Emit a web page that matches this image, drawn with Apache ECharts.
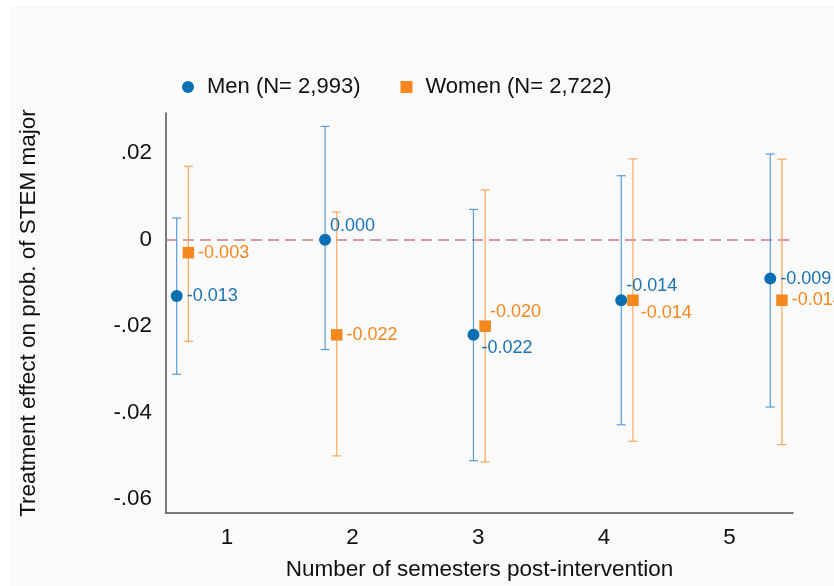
<!DOCTYPE html>
<html>
<head>
<meta charset="utf-8">
<script src="https://cdn.jsdelivr.net/npm/echarts@6/dist/echarts.min.js"></script>
<style>
  html, body { margin: 0; padding: 0; background: #ffffff; }
  #chart { width: 834px; height: 586px; }
</style>
</head>
<body>
<div id="chart"></div>
<script>
// Semesters after the intervention (x-axis tick labels)
const semesters = [1, 2, 3, 4, 5];
const yTicks = [-0.06, -0.04, -0.02, 0, 0.02];

// Men: point estimates, dodge positions and 95% CI bounds
const menName = 'Men (N= 2,993)';
const menX = [0.600, 1.781, 2.962, 4.138, 5.324];
const menEst = [-0.013, 0.000, -0.022, -0.014, -0.009];
const menLo = [-0.0311, -0.0254, -0.0511, -0.0428, -0.0387];
const menHi = [0.0050, 0.0262, 0.0070, 0.0148, 0.0198];

// Women: point estimates, dodge positions and 95% CI bounds
const womenName = 'Women (N= 2,722)';
const womenX = [0.693, 1.874, 3.055, 4.231, 5.417];
const womenEst = [-0.003, -0.022, -0.020, -0.014, -0.014];
const womenLo = [-0.0235, -0.0500, -0.0514, -0.0466, -0.0474];
const womenHi = [0.0170, 0.0064, 0.0115, 0.0187, 0.0186];

// Label placement per point, as clock positions (3 = right, 2 = upper right, 4 = lower right)
const menLabelClock = [3, 2, 4, 2, 3];
const womenLabelClock = [3, 3, 2, 4, 3];
const clockOffset = { 3: [0, 0], 2: [-5, -14], 4: [-2, 13] };

const FONT = '"Liberation Sans", Arial, Helvetica, sans-serif';
const C = {
  menMarker: '#0b6fb1', menBar: '#5b9dd6', menText: '#1a74b4',
  womenMarker: '#f5871f', womenBar: '#f8a85c', womenText: '#f5871f',
  axis: '#505050', zero: '#c97b7b', text: '#111111'
};

function ciSeries(name, xs, lo, hi, color) {
  return {
    type: 'custom',
    name: name + ' CI',
    data: xs.map((x, i) => [x, lo[i], hi[i]]),
    encode: { x: 0, y: [1, 2] },
    silent: true,
    z: 2,
    renderItem: function (params, api) {
      const x = api.value(0);
      const p0 = api.coord([x, api.value(1)]);
      const p1 = api.coord([x, api.value(2)]);
      const hw = 4.5;
      const style = { stroke: color, lineWidth: 1.2, fill: null };
      return {
        type: 'group',
        children: [
          { type: 'line', shape: { x1: p0[0], y1: p0[1], x2: p1[0], y2: p1[1] }, style },
          { type: 'line', shape: { x1: p0[0] - hw, y1: p0[1], x2: p0[0] + hw, y2: p0[1] }, style },
          { type: 'line', shape: { x1: p1[0] - hw, y1: p1[1], x2: p1[0] + hw, y2: p1[1] }, style }
        ]
      };
    }
  };
}

function pointSeries(name, xs, est, clocks, symbol, size, markerColor, textColor) {
  return {
    type: 'scatter',
    name: name,
    symbol: symbol,
    symbolSize: size,
    z: 5,
    itemStyle: { color: markerColor, opacity: 1 },
    data: xs.map((x, i) => ({
      value: [x, est[i]],
      label: { offset: clockOffset[clocks[i]] }
    })),
    label: {
      show: true,
      position: 'right',
      distance: 4,
      color: textColor,
      fontFamily: FONT,
      fontSize: 18,
      formatter: p => p.value[1].toFixed(3)
    },
    emphasis: { disabled: true }
  };
}

const chart = echarts.init(document.getElementById('chart'), null, { renderer: 'canvas' });

const series = [
  ciSeries(menName, menX, menLo, menHi, C.menBar),
  ciSeries(womenName, womenX, womenLo, womenHi, C.womenBar),
  pointSeries(menName, menX, menEst, menLabelClock, 'circle', 12, C.menMarker, C.menText),
  pointSeries(womenName, womenX, womenEst, womenLabelClock, 'rect', 11.5, C.womenMarker, C.womenText)
];

// Reference line at zero
series[2].markLine = {
  silent: true,
  symbol: 'none',
  label: { show: false },
  lineStyle: { color: C.zero, type: [11, 6], width: 1.5 },
  data: [{ yAxis: 0 }],
  z: 1
};

chart.setOption({
  animation: false,
  backgroundColor: '#ffffff',
  graphic: [{
    type: 'rect',
    left: 11, top: 6,
    shape: { width: 823, height: 580 },
    style: { fill: '#fafafa' },
    z: -10, silent: true
  }],
  legend: {
    left: 177,
    top: 71,
    itemWidth: 12,
    itemHeight: 12,
    itemGap: 40,
    textStyle: { fontFamily: FONT, fontSize: 22, color: C.text, padding: [0, 0, 0, 8] },
    data: [
      { name: menName, icon: 'circle' },
      { name: womenName, icon: 'rect' }
    ],
    selectedMode: false
  },
  grid: { left: 166, top: 113, right: 41, bottom: 69, containLabel: false },
  xAxis: {
    type: 'value',
    min: 0.515,
    max: 5.505,
    name: 'Number of semesters post-intervention',
    nameLocation: 'middle',
    nameGap: 45,
    nameTextStyle: { fontFamily: FONT, fontSize: 22.5, color: C.text },
    axisLine: { show: true, onZero: false, lineStyle: { color: C.axis, width: 1.5 } },
    axisTick: { show: false },
    splitLine: { show: false },
    axisLabel: {
      customValues: semesters,
      margin: 14,
      fontFamily: FONT, fontSize: 22.4, color: C.text,
      formatter: v => String(Math.round(v))
    }
  },
  yAxis: {
    type: 'value',
    min: -0.0632,
    max: 0.0293,
    name: 'Treatment effect on prob. of STEM major',
    nameLocation: 'middle',
    nameGap: 126,
    nameTextStyle: { fontFamily: FONT, fontSize: 22.5, color: C.text },
    axisLine: { show: true, onZero: false, lineStyle: { color: C.axis, width: 1.5 } },
    axisTick: { show: false },
    splitLine: { show: false },
    axisLabel: {
      customValues: yTicks,
      margin: 14,
      padding: [4, 0, 0, 0],
      fontFamily: FONT, fontSize: 22.4, color: C.text,
      formatter: function (v) {
        if (Math.abs(v) < 1e-9) return '0';
        return (v < 0 ? '-' : '') + Math.abs(v).toFixed(2).replace(/^0/, '');
      }
    }
  },
  series: series
});
</script>
</body>
</html>
